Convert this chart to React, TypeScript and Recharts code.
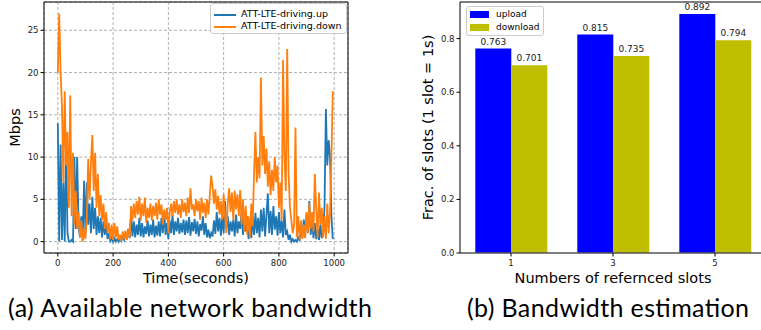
import { Bar, BarChart, CartesianGrid, LabelList, Line, LineChart, ReferenceLine, XAxis, YAxis } from "recharts";

// (a) bandwidth trace, one sample every 5 s
const timeStep = 5;
const upMbps = [
  14, 0, 11.5, 0.2, 7, 0, 12.2, 1, 0, 0,
  0.2, 0, 10, 1.5, 10, 2, 0.5, 3, 0.2, 7.2,
  1, 7, 2, 4.5, 1, 5.3, 1.5, 4, 0.8, 3,
  1, 2.8, 0.5, 2.4, 0.8, 2, 0.3, 1, 0.1, 0.5,
  0, 0.4, 0, 0.3, 0, 0.5, 0.1, 0.6, 0.2, 1,
  0.3, 1.5, 0.4, 3, 0.6, 2.4, 0.5, 2, 0.8, 2.8,
  0.6, 2.2, 0.5, 1.8, 0.9, 2.5, 0.6, 2, 0.8, 2.6,
  0.5, 1.9, 0.7, 2.4, 0.6, 2.8, 1, 3.5, 0.8, 2.2,
  0.3, 2.5, 1, 3.2, 0.8, 2.4, 1.2, 2.8, 0.9, 2.2,
  1.1, 2.6, 0.8, 2.5, 1, 2.9, 0.7, 2.3, 1.2, 2.7,
  0.9, 2.4, 0.6, 2.1, 1.3, 3, 0.8, 2.2, 0.5, 1.4,
  0.4, 1, 0.6, 2.5, 0.9, 3.5, 1.2, 2.8, 0.7, 3,
  1, 4.8, 1.5, 3, 0.8, 2.4, 1.2, 2.6, 0.6, 3.2,
  1, 2.4, 1.5, 3.5, 0.8, 2.6, 1.2, 3, 0.3, 2,
  0.4, 3, 0.8, 3.4, 1, 2.8, 0.5, 3.8, 1.2, 4,
  0.6, 3.2, 5.7, 1, 3.6, 0.8, 4.2, 1.4, 3, 0.7,
  3.5, 1, 2.5, 0.5, 3.8, 0.8, 1.2, 0.2, 0.8, 0,
  0.3, 0, 0.2, 0, 0.5, 0.1, 1.8, 0.5, 2.6, 0.8,
  3.2, 1.2, 4.8, 0.8, 2.8, 0.4, 2.2, 0.3, 1.5, 0.2,
  2, 0.4, 1.2, 4, 15.7, 9, 12, 10, 3, 0.3,
];
const downMbps = [
  20, 27, 20, 16, 7, 17.8, 9, 13, 4, 17.3,
  3, 10.5, 2, 6, 1.5, 3.5, 0.5, 2.5, 0, 1.5,
  0.3, 3, 9.8, 5, 9.5, 12.6, 6, 10.5, 4, 8,
  3, 5.5, 2.5, 4.5, 1.5, 3.5, 1, 2.2, 0.3, 2,
  0.2, 2.2, 0.5, 1.8, 0.2, 0.8, 0.1, 1.2, 0.3, 1.3,
  0.2, 1.5, 0.5, 4.2, 2.5, 4.5, 2.8, 4.8, 3.2, 5.3,
  2.5, 4.5, 3, 5.2, 2.2, 4, 2.8, 4.5, 2.5, 4.2,
  3, 4.6, 2.6, 5, 3.2, 4.4, 2, 3.8, 2.6, 4,
  1, 3.5, 4.5, 3, 4.8, 3.4, 5, 3.2, 4.4, 2.8,
  5, 3.5, 4.6, 3, 5.2, 3.4, 6.3, 3.8, 4.4, 3,
  5, 3.6, 4.8, 2.6, 5.2, 3.4, 4.6, 2.8, 5, 3.2,
  5.5, 7.8, 6.5, 4.5, 6.2, 3.8, 5.4, 3.2, 4.8, 2.6,
  5.6, 3, 1, 4.5, 6.3, 3.5, 5.8, 2.5, 6, 3.8,
  5.6, 3, 6.1, 2, 5, 1.2, 4.2, 0.8, 3, 0.5,
  4.5, 1.8, 8, 13, 7, 10, 7.5, 19.4, 9, 12.5,
  8, 11, 6.5, 9.5, 5.5, 8.5, 6, 10, 7, 9,
  4, 7, 2.5, 21.5, 10, 6, 22.8, 8, 4, 2.5,
  1, 2, 13.5, 0.5, 3, 0.2, 2.5, 0.3, 2, 0.4,
  3.5, 1, 4.5, 1.5, 3.5, 1.2, 8, 3.8, 0.5, 5.8,
  2, 4, 0.5, 3, 0.3, 4.5, 1, 3.5, 10, 17.8,
];
const traceNames = ["ATT-LTE-driving.up", "ATT-LTE-driving.down"];
const traceColors = ["#1f77b4", "#ff7f0e"];
const timeTicks = [0, 200, 400, 600, 800, 1000];
const mbpsTicks = [0, 5, 10, 15, 20, 25];

// (b) bandwidth estimation
const slotCounts = ["1", "3", "5"];
const uploadFrac = [0.763, 0.815, 0.892];
const downloadFrac = [0.701, 0.735, 0.794];
const fracNames = ["upload", "download"];
const fracColors = ["#0000ff", "#bfbf00"];
const fracTicks = [0, 0.2, 0.4, 0.6, 0.8];

const traceRows = upMbps.map((up, i) => ({ t: i * timeStep, up, down: downMbps[i] }));
const barRows = slotCounts.map((slots, i) => ({ slots, upload: uploadFrac[i], download: downloadFrac[i] }));

const tickStyle = { fontSize: 8.5, fill: "#222" };
const ink = { stroke: "#000" };

function XTitle({ viewBox, text }: any) {
  return <text x={viewBox.x + viewBox.width / 2} y={viewBox.y + 30} textAnchor="middle" fontSize={14.5} fill="#000">{text}</text>;
}

function YTitle({ viewBox, text, cx }: any) {
  const cy = viewBox.y + viewBox.height / 2;
  return <text x={cx} y={cy} transform={`rotate(-90, ${cx}, ${cy})`} textAnchor="middle" dominantBaseline="central" fontSize={14.5} fill="#000">{text}</text>;
}

function TraceLegend() {
  return <div style={{ position: "absolute", left: 210, top: 3, width: 135, height: 29, border: "1px solid #ccc", borderRadius: 3, background: "rgba(255,255,255,0.85)", fontSize: 9.5 }}>
    {traceNames.map((name, i) => <div key={name}>
      <div style={{ position: "absolute", left: 3, top: 10 + i * 12, width: 22, height: 2, background: traceColors[i] }} />
      <div style={{ position: "absolute", left: 30, top: 4 + i * 12, lineHeight: "12px", whiteSpace: "nowrap" }}>{name}</div>
    </div>)}
  </div>;
}

function FracLegend() {
  return <div style={{ position: "absolute", left: 86, top: 6, width: 76, height: 28, border: "1px solid #ccc", borderRadius: 3, background: "rgba(255,255,255,0.85)", fontSize: 9 }}>
    {fracNames.map((name, i) => <div key={name}>
      <div style={{ position: "absolute", left: 3, top: 4 + i * 13, width: 19, height: 7, background: fracColors[i] }} />
      <div style={{ position: "absolute", left: 29, top: 1 + i * 13, lineHeight: "12px" }}>{name}</div>
    </div>)}
  </div>;
}

export default function App() {
  return <div style={{ position: "absolute", left: 0, top: 0, width: 761, height: 330, overflow: "hidden", background: "#fff", fontFamily: "DejaVu Sans" }}>
    <div style={{ position: "absolute", left: 0, top: 0 }}>
      <LineChart width={380} height={290} data={traceRows} margin={{ top: 2, right: 32, bottom: 0, left: 0 }}>
        <CartesianGrid stroke="#b0b0b0" strokeDasharray="3 2" />
        <XAxis dataKey="t" type="number" domain={[-50, 1050]} ticks={timeTicks} allowDataOverflow height={37}
          tickSize={3.5} tickMargin={3} tick={tickStyle} axisLine={ink} tickLine={ink} label={<XTitle text="Time(seconds)" />} />
        <YAxis type="number" domain={[-1.35, 28.35]} ticks={mbpsTicks} allowDataOverflow width={44}
          tickSize={3.5} tickMargin={2} tick={tickStyle} axisLine={ink} tickLine={ink} label={<YTitle text="Mbps" cx={15} />} />
        <ReferenceLine y={28.35} stroke="#000" />
        <ReferenceLine x={1050} stroke="#000" />
        <Line dataKey="up" stroke={traceColors[0]} strokeWidth={1.8} dot={false} isAnimationActive={false} />
        <Line dataKey="down" stroke={traceColors[1]} strokeWidth={1.8} dot={false} isAnimationActive={false} />
      </LineChart>
      <TraceLegend />
    </div>
    <div style={{ position: "absolute", left: 380, top: 0 }}>
      <BarChart width={390} height={290} data={barRows} margin={{ top: 2, right: 4, bottom: 0, left: 0 }} barCategoryGap="15%" barGap={0}>
        <XAxis dataKey="slots" height={37} tickSize={3.5} tickMargin={3} tick={tickStyle} axisLine={{ stroke: "#555", strokeWidth: 1.5 }} tickLine={ink}
          label={<XTitle text="Numbers of refernced slots" />} />
        <YAxis type="number" domain={[0, 0.9366]} ticks={fracTicks} allowDataOverflow width={80} tickFormatter={(v: number) => v.toFixed(1)}
          tickSize={3.5} tickMargin={2} tick={tickStyle} axisLine={ink} tickLine={ink} label={<YTitle text="Frac. of slots (1 slot = 1s)" cx={48} />} />
        <ReferenceLine y={0.9366} stroke="#000" />
        <Bar dataKey="upload" fill={fracColors[0]} isAnimationActive={false}>
          <LabelList dataKey="upload" position="top" offset={4} formatter={(v: number) => v.toFixed(3)} style={{ fontSize: 9, fill: "#222" }} />
        </Bar>
        <Bar dataKey="download" fill={fracColors[1]} isAnimationActive={false}>
          <LabelList dataKey="download" position="top" offset={4} formatter={(v: number) => v.toFixed(3)} style={{ fontSize: 9, fill: "#222" }} />
        </Bar>
      </BarChart>
      <FracLegend />
    </div>
    <svg width={761} height={330} style={{ position: "absolute", left: 0, top: 0, pointerEvents: "none" }}>
      <text x={8} y={317} fontFamily="Lato" fontSize={25} fill="#000" textLength={364} lengthAdjust="spacing">(a) Available network bandwidth</text>
      <text x={467} y={317} fontFamily="Lato" fontSize={25} fill="#000" textLength={282} lengthAdjust="spacing">(b) Bandwidth estimation</text>
    </svg>
  </div>;
}
